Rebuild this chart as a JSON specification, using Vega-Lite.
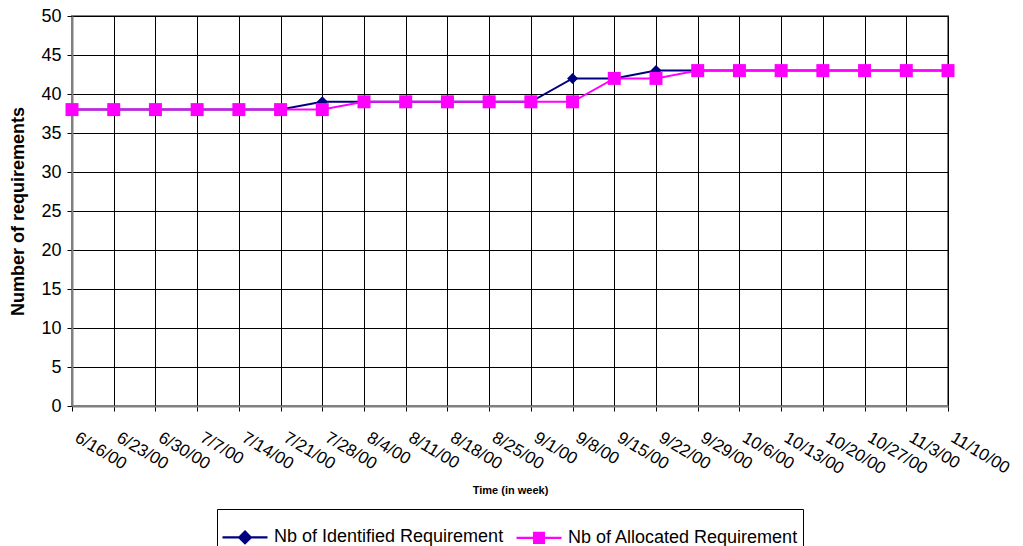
{
  "$schema": "https://vega.github.io/schema/vega-lite/v6.json",
  "width": 876,
  "height": 390,
  "autosize": {"type": "none"},
  "padding": {"left": 72, "top": 16, "right": 75, "bottom": 140},
  "background": "white",
  "config": {
    "font": "Liberation Sans",
    "view": {"stroke": "#808080", "strokeWidth": 2},
    "axis": {
      "grid": true,
      "gridColor": "black",
      "gridOpacity": 1,
      "gridWidth": 1,
      "domainColor": "#808080",
      "domainWidth": 2,
      "tickColor": "black",
      "tickSize": 5,
      "tickWidth": 1,
      "labelColor": "black",
      "titleColor": "black"
    },
    "legend": {
      "layout": {"bottom": {"anchor": "middle"}}
    }
  },
  "data": {
    "values": [
      {"date": "6/16/00", "series": "Nb of Identified Requirement", "value": 38},
      {"date": "6/23/00", "series": "Nb of Identified Requirement", "value": 38},
      {"date": "6/30/00", "series": "Nb of Identified Requirement", "value": 38},
      {"date": "7/7/00", "series": "Nb of Identified Requirement", "value": 38},
      {"date": "7/14/00", "series": "Nb of Identified Requirement", "value": 38},
      {"date": "7/21/00", "series": "Nb of Identified Requirement", "value": 38},
      {"date": "7/28/00", "series": "Nb of Identified Requirement", "value": 39},
      {"date": "8/4/00", "series": "Nb of Identified Requirement", "value": 39},
      {"date": "8/11/00", "series": "Nb of Identified Requirement", "value": 39},
      {"date": "8/18/00", "series": "Nb of Identified Requirement", "value": 39},
      {"date": "8/25/00", "series": "Nb of Identified Requirement", "value": 39},
      {"date": "9/1/00", "series": "Nb of Identified Requirement", "value": 39},
      {"date": "9/8/00", "series": "Nb of Identified Requirement", "value": 42},
      {"date": "9/15/00", "series": "Nb of Identified Requirement", "value": 42},
      {"date": "9/22/00", "series": "Nb of Identified Requirement", "value": 43},
      {"date": "9/29/00", "series": "Nb of Identified Requirement", "value": 43},
      {"date": "10/6/00", "series": "Nb of Identified Requirement", "value": 43},
      {"date": "10/13/00", "series": "Nb of Identified Requirement", "value": 43},
      {"date": "10/20/00", "series": "Nb of Identified Requirement", "value": 43},
      {"date": "10/27/00", "series": "Nb of Identified Requirement", "value": 43},
      {"date": "11/3/00", "series": "Nb of Identified Requirement", "value": 43},
      {"date": "11/10/00", "series": "Nb of Identified Requirement", "value": 43},
      {"date": "6/16/00", "series": "Nb of Allocated Requirement", "value": 38},
      {"date": "6/23/00", "series": "Nb of Allocated Requirement", "value": 38},
      {"date": "6/30/00", "series": "Nb of Allocated Requirement", "value": 38},
      {"date": "7/7/00", "series": "Nb of Allocated Requirement", "value": 38},
      {"date": "7/14/00", "series": "Nb of Allocated Requirement", "value": 38},
      {"date": "7/21/00", "series": "Nb of Allocated Requirement", "value": 38},
      {"date": "7/28/00", "series": "Nb of Allocated Requirement", "value": 38},
      {"date": "8/4/00", "series": "Nb of Allocated Requirement", "value": 39},
      {"date": "8/11/00", "series": "Nb of Allocated Requirement", "value": 39},
      {"date": "8/18/00", "series": "Nb of Allocated Requirement", "value": 39},
      {"date": "8/25/00", "series": "Nb of Allocated Requirement", "value": 39},
      {"date": "9/1/00", "series": "Nb of Allocated Requirement", "value": 39},
      {"date": "9/8/00", "series": "Nb of Allocated Requirement", "value": 39},
      {"date": "9/15/00", "series": "Nb of Allocated Requirement", "value": 42},
      {"date": "9/22/00", "series": "Nb of Allocated Requirement", "value": 42},
      {"date": "9/29/00", "series": "Nb of Allocated Requirement", "value": 43},
      {"date": "10/6/00", "series": "Nb of Allocated Requirement", "value": 43},
      {"date": "10/13/00", "series": "Nb of Allocated Requirement", "value": 43},
      {"date": "10/20/00", "series": "Nb of Allocated Requirement", "value": 43},
      {"date": "10/27/00", "series": "Nb of Allocated Requirement", "value": 43},
      {"date": "11/3/00", "series": "Nb of Allocated Requirement", "value": 43},
      {"date": "11/10/00", "series": "Nb of Allocated Requirement", "value": 43}
    ]
  },
  "encoding": {
    "x": {
      "field": "date",
      "type": "ordinal",
      "sort": null,
      "scale": {"type": "point", "padding": 0},
      "axis": {
        "title": "Time (in week)",
        "titleFontSize": 11,
        "titleFontWeight": "bold",
        "titleBaseline": "middle",
        "titleY": 84,
        "labelAngle": 31,
        "labelAlign": "left",
        "labelBaseline": "top",
        "labelFontSize": 17,
        "labelPadding": 18,
        "labelOffset": 8,
        "labelOverlap": false,
        "labelBound": false,
        "labelFlush": false
      }
    },
    "y": {
      "field": "value",
      "type": "quantitative",
      "scale": {"domain": [0, 50], "nice": false},
      "axis": {
        "title": "Number of requirements",
        "titleFontSize": 18,
        "titleFontWeight": "bold",
        "titleX": -54,
        "titleY": 195,
        "titleBaseline": "middle",
        "titleAlign": "center",
        "values": [0, 5, 10, 15, 20, 25, 30, 35, 40, 45, 50],
        "labelFontSize": 18,
        "labelPadding": 6
      }
    }
  },
  "layer": [
    {
      "transform": [{"filter": "datum.series === 'Nb of Identified Requirement'"}],
      "mark": {"type": "line", "strokeWidth": 2, "color": "#000080"}
    },
    {
      "transform": [{"filter": "datum.series === 'Nb of Identified Requirement'"}],
      "mark": {"type": "point", "shape": "diamond", "filled": true, "size": 121, "opacity": 1, "color": "#000080"}
    },
    {
      "transform": [{"filter": "datum.series === 'Nb of Allocated Requirement'"}],
      "mark": {"type": "line", "strokeWidth": 2, "color": "#FF00FF"}
    },
    {
      "transform": [{"filter": "datum.series === 'Nb of Allocated Requirement'"}],
      "mark": {"type": "point", "shape": "square", "filled": true, "size": 169, "opacity": 1, "color": "#FF00FF"}
    },
    {
      "transform": [{"filter": "false"}],
      "mark": {"type": "point", "filled": false, "strokeWidth": 2.2, "opacity": 1},
      "encoding": {
        "color": {
          "field": "series",
          "type": "nominal",
          "scale": {
            "domain": ["Nb of Identified Requirement", "Nb of Allocated Requirement"],
            "range": ["#000080", "#FF00FF"]
          },
          "legend": {
            "title": null,
            "orient": "bottom",
            "offset": 14,
            "direction": "horizontal",
            "symbolSize": 2025,
            "symbolStrokeWidth": 2.2,
            "symbolOpacity": 1,
            "labelFontSize": 18,
            "labelColor": "black",
            "labelOffset": 5,
            "labelLimit": 400,
            "columnPadding": 8,
            "padding": 4,
            "strokeColor": "black",
            "fillColor": "white"
          }
        },
        "shape": {
          "field": "series",
          "type": "nominal",
          "scale": {
            "domain": ["Nb of Identified Requirement", "Nb of Allocated Requirement"],
            "range": [
              "M-1,0H1M0,-0.26L0.26,0L0,0.26L-0.26,0ZM0,-0.16L0.16,0L0,0.16L-0.16,0ZM0,-0.06L0.06,0L0,0.06L-0.06,0Z",
              "M-1,0H1M-0.22,-0.22H0.22V0.22H-0.22ZM-0.13,-0.13H0.13V0.13H-0.13ZM-0.04,-0.04H0.04V0.04H-0.04Z"
            ]
          },
          "legend": {
            "title": null,
            "orient": "bottom",
            "offset": 14,
            "direction": "horizontal",
            "symbolSize": 2025,
            "symbolStrokeWidth": 2.2,
            "symbolOpacity": 1,
            "labelFontSize": 18,
            "labelColor": "black",
            "labelOffset": 5,
            "labelLimit": 400,
            "columnPadding": 8,
            "padding": 4,
            "strokeColor": "black",
            "fillColor": "white"
          }
        }
      }
    }
  ]
}
